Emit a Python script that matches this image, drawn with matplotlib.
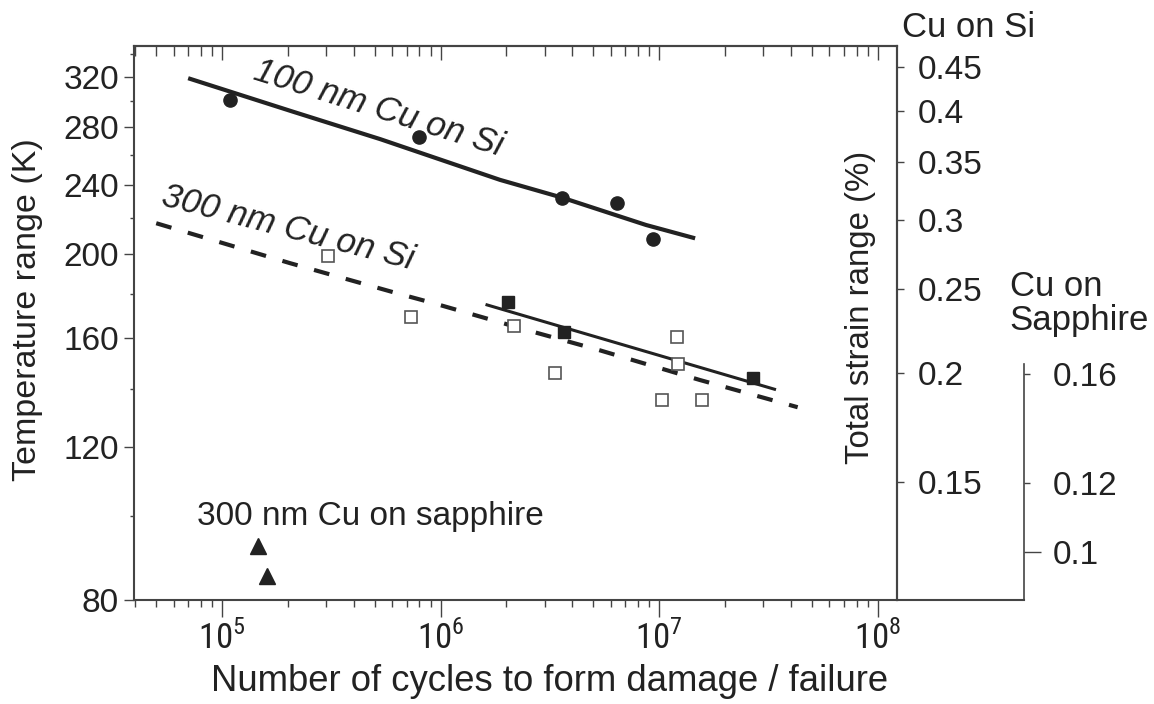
import numpy as np
import matplotlib.pyplot as plt
from matplotlib import font_manager
from matplotlib.ticker import FixedLocator, NullFormatter, LogLocator

plt.rcParams['font.family'] = ['Liberation Sans', 'DejaVu Sans']

# the decade labels use a condensed face when one is installed
installed = {f.name for f in font_manager.fontManager.ttflist}
NARROW = None
for cand in ['Liberation Sans Narrow', 'Roboto Condensed', 'Open Sans Condensed',
             'Noto Sans Condensed', 'Arial Narrow']:
    if cand in installed:
        NARROW = cand
        break
XTICK_SIZE = 25 if NARROW else 22

plt.rcParams['mathtext.fontset'] = 'custom'
plt.rcParams['mathtext.rm'] = NARROW or 'Liberation Sans'

INK = '#222222'
SPINE = '#444444'

# 100 nm Cu on Si: measured points and fit line
si100_cycles = [1.09e5, 8.0e5, 3.6e6, 6.4e6, 9.4e6]
si100_temp = [301, 273, 232, 229, 208]
si100_fit_cycles = [7.0e4, 2.1e5, 5.3e5, 1.87e6, 3.6e6, 8.7e6, 1.46e7]
si100_fit_temp = [318.6, 291.7, 271.1, 243.4, 232.2, 216.0, 208.5]

# 300 nm Cu on Si: damage (open) and failure (filled) points
si300_open_cycles = [3.05e5, 7.3e5, 2.16e6, 3.33e6, 1.20e7, 1.22e7, 1.03e7, 1.57e7]
si300_open_temp = [199.0, 169.4, 165.4, 146.1, 160.7, 149.5, 135.9, 135.9]
si300_fill_cycles = [2.04e6, 3.66e6, 2.7e7]
si300_fill_temp = [176.3, 162.6, 144.2]
si300_dash_cycles = [5.0e4, 2.05e5, 6.5e5, 9.2e5, 2.64e6, 5.3e6, 1.53e7, 4.3e7]
si300_dash_temp = [217.0, 195.2, 179.9, 175.7, 162.8, 155.1, 143.3, 133.3]
si300_fit_cycles = [1.63e6, 3.37e7]
si300_fit_temp = [174.8, 139.8]

# 300 nm Cu on sapphire
sap_cycles = [1.46e5, 1.60e5]
sap_temp = [92.4, 85.2]

temp_ticks = [80, 120, 160, 200, 240, 280, 320]
temp_minor = [100, 140, 180, 220, 260, 300, 340]
strain_si_ticks = [0.15, 0.2, 0.25, 0.3, 0.35, 0.4, 0.45]
strain_sap_ticks = [0.1, 0.12, 0.16]
x_ticks = [1e5, 1e6, 1e7, 1e8]
x_tick_labels = ['$10^{5}$', '$10^{6}$', '$10^{7}$', '$10^{8}$']

# strain (%) per kelvin of temperature range
SI_PER_K = 0.00137
SAP_PER_K = 0.0011

T_LIM = (80, 347)
N_LIM = (3.97e4, 1.22e8)

fig = plt.figure(figsize=(11.54, 7.04), dpi=100)
ax = fig.add_axes([0.1164, 0.1477, 0.6606, 0.787])
ax.set_xscale('log')
ax.set_yscale('log')
ax.set_xlim(*N_LIM)
ax.set_ylim(*T_LIM)

ax.plot(si100_fit_cycles, si100_fit_temp, color=INK, lw=3, solid_capstyle='butt')
ax.plot(si100_cycles, si100_temp, 'o', color=INK, ms=9.5)
ax.plot(si300_dash_cycles, si300_dash_temp, color=INK, lw=3,
        linestyle=(0, (3.8, 4.1)), dash_capstyle='butt')
ax.plot(si300_fit_cycles, si300_fit_temp, color=INK, lw=2.2)
ax.plot(si300_fill_cycles, si300_fill_temp, 's', color=INK, ms=9)
ax.plot(si300_open_cycles, si300_open_temp, 's', mfc='white', mec='#555555',
        mew=1.2, ms=9)
ax.plot(sap_cycles, sap_temp, '^', color=INK, ms=12)

ax.text(5.2e5, 294, '100 nm Cu on Si', rotation=-17.3, style='italic',
        fontsize=25, color=INK, ha='center', va='center', rotation_mode='anchor')
ax.text(2.0e5, 214, '300 nm Cu on Si', rotation=-14.4, style='italic',
        fontsize=25, color=INK, ha='center', va='center', rotation_mode='anchor')
ax.text(7.7e4, 99.7, '300 nm Cu on sapphire', fontsize=24, color=INK,
        ha='left', va='center')

for side in ['left', 'right', 'top', 'bottom']:
    ax.spines[side].set_color(SPINE)
    ax.spines[side].set_linewidth(1.5)

# left temperature axis
ax.yaxis.set_major_locator(FixedLocator(temp_ticks))
ax.yaxis.set_minor_locator(FixedLocator(temp_minor))
ax.set_yticklabels([str(t) for t in temp_ticks])
ax.yaxis.set_minor_formatter(NullFormatter())
ax.tick_params(axis='y', which='major', length=7, width=1, color=SPINE,
               labelsize=24, labelcolor=INK, pad=4)
ax.tick_params(axis='y', which='minor', length=3, width=1, color=SPINE)
ax.set_ylabel('Temperature range (K)', fontsize=24.5, color=INK)
ax.yaxis.set_label_coords(-0.1198, 0.525)

# bottom cycles axis
ax.xaxis.set_major_locator(FixedLocator(x_ticks))
ax.set_xticklabels(x_tick_labels)
ax.xaxis.set_minor_locator(LogLocator(base=10, subs=np.arange(2, 10)))
ax.xaxis.set_minor_formatter(NullFormatter())
ax.tick_params(axis='x', which='major', length=12, width=1, color=SPINE,
               labelsize=XTICK_SIZE, labelcolor=INK, pad=3)
ax.tick_params(axis='x', which='minor', length=5, width=1, color=SPINE)
ax.set_xlabel('Number of cycles to form damage / failure', fontsize=26.3,
              color=INK)
ax.xaxis.set_label_coords(0.545, -0.115)

top = ax.secondary_xaxis('top')
top.xaxis.set_major_locator(FixedLocator(x_ticks))
top.xaxis.set_minor_locator(LogLocator(base=10, subs=np.arange(2, 10)))
top.xaxis.set_minor_formatter(NullFormatter())
top.tick_params(which='major', direction='in', length=10, width=1,
                color=SPINE, labeltop=False)
top.tick_params(which='minor', direction='in', length=7, width=1, color=SPINE)
top.spines['top'].set_color(SPINE)
top.spines['top'].set_linewidth(1.5)

# strain axis for Cu on Si
ax2 = ax.twinx()
ax2.set_yscale('log')
ax2.set_ylim(T_LIM[0] * SI_PER_K, T_LIM[1] * SI_PER_K)
ax2.yaxis.set_major_locator(FixedLocator(strain_si_ticks))
ax2.set_yticklabels([f'{v:g}' for v in strain_si_ticks])
ax2.yaxis.set_minor_locator(FixedLocator([]))
ax2.tick_params(axis='y', which='major', length=5, width=1, color=SPINE,
                labelsize=24, labelcolor=INK, pad=10)
for side in ['left', 'top', 'bottom']:
    ax2.spines[side].set_visible(False)
ax2.spines['right'].set_color(SPINE)
ax2.spines['right'].set_linewidth(1.5)
ax.text(0.952, 0.528, 'Total strain range (%)', transform=ax.transAxes,
        rotation=90, fontsize=23.8, color=INK, ha='center', va='center')

# strain axis for Cu on sapphire
ax3 = ax.twinx()
ax3.set_yscale('log')
ax3.set_ylim(T_LIM[0] * SAP_PER_K, T_LIM[1] * SAP_PER_K)
offset = 127.3 / 762.4
ax3.spines['right'].set_position(('axes', 1 + offset))
ax3.spines['right'].set_bounds(T_LIM[0] * SAP_PER_K, 0.1645)
ax3.spines['right'].set_color(SPINE)
ax3.spines['right'].set_linewidth(1.2)
for side in ['left', 'top', 'bottom']:
    ax3.spines[side].set_visible(False)
ax3.yaxis.set_major_locator(FixedLocator(strain_sap_ticks))
ax3.set_yticklabels([f'{v:g}' for v in strain_sap_ticks])
ax3.yaxis.set_minor_locator(FixedLocator([]))
ax3.tick_params(axis='y', which='major', length=4, width=1, color=SPINE,
                labelsize=24, labelcolor=INK, pad=17)
ax3.yaxis.get_major_ticks()[0].tick2line.set_markersize(12)
ax.plot([1, 1 + offset], [0, 0], transform=ax.transAxes, clip_on=False,
        color=SPINE, lw=1.5)

fig.text(0.7816, 0.9616, 'Cu on Si', fontsize=25, color=INK,
         ha='left', va='center')
fig.text(0.875, 0.569, 'Cu on\nSapphire', fontsize=25, color=INK,
         ha='left', va='center', linespacing=1.05)

fig.savefig('out.png', dpi=100, facecolor='white')
